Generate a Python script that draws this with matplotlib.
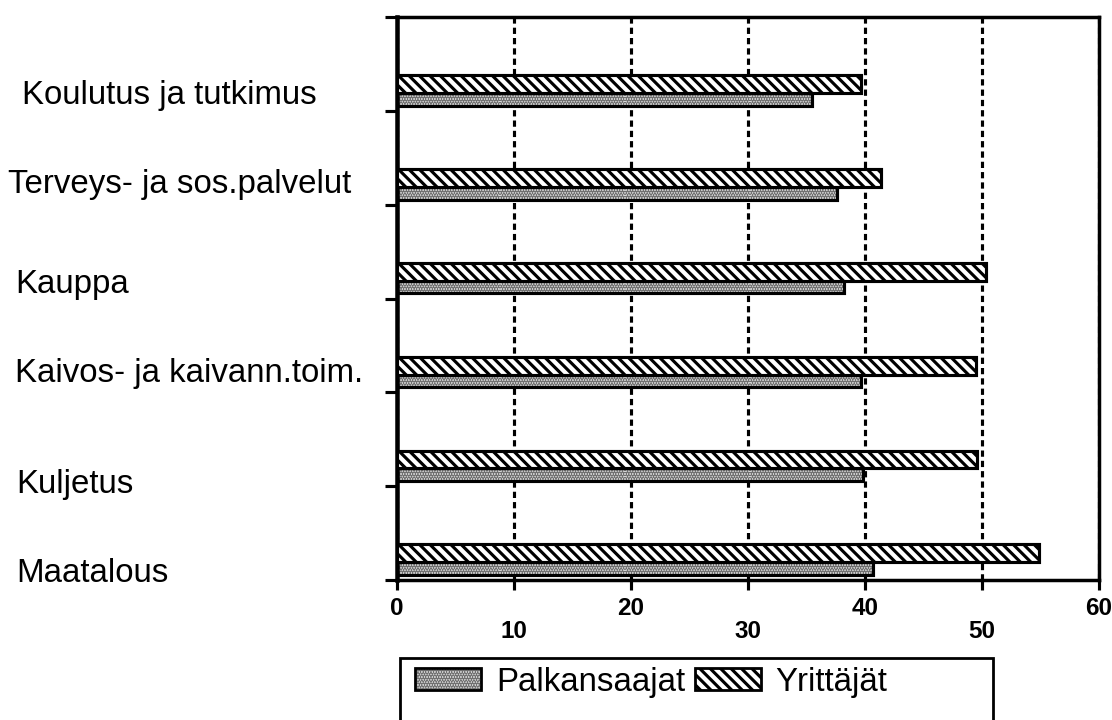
import numpy as np
import matplotlib
matplotlib.use('Agg')
import matplotlib.pyplot as plt
from matplotlib.patches import Patch, Rectangle
from matplotlib import transforms

# Tiedot (luettu kuvasta)
kategoriat = ['Koulutus ja tutkimus', 'Terveys- ja sos.palvelut', 'Kauppa',
              'Kaivos- ja kaivann.toim.', 'Kuljetus', 'Maatalous']
palkansaajat = [35.5, 37.6, 38.2, 39.7, 39.8, 40.7]
yrittajat = [39.7, 41.4, 50.3, 49.5, 49.6, 54.9]
x_ticks = [0, 10, 20, 30, 40, 50, 60]
sarjat = ['Palkansaajat', 'Yrittäjät']

DPI = 125
W, H = 1112, 720
plt.rcParams['font.family'] = ['Liberation Sans', 'DejaVu Sans']
plt.rcParams['hatch.linewidth'] = 1.8

VINO = '\\' * 4
PISTE = '.' * 8

fig = plt.figure(figsize=(W / DPI, H / DPI), dpi=DPI)
ax = fig.add_axes([397 / W, 1 - 580 / H, (1099 - 397) / W, (580 - 17) / H])

n = len(kategoriat)
y = np.arange(n)[::-1]          # ylin kategoria ylimpänä
h_p, h_y, pohja = 0.135, 0.19, 0.055

# Palkansaajat: pisterasteri + musta reunus
ax.barh(y + pohja, palkansaajat, height=h_p, align='edge', color='#dcdcdc',
        edgecolor='#707070', hatch=PISTE, linewidth=0, zorder=2)
ax.barh(y + pohja, palkansaajat, height=h_p, align='edge', fill=False,
        edgecolor='black', linewidth=1.8, zorder=3)
# Yrittäjät: vinoviivat
ax.barh(y + pohja + h_p, yrittajat, height=h_y, align='edge', color='white',
        edgecolor='black', hatch=VINO, linewidth=1.8, zorder=3)

ax.set_xlim(0, 60)
ax.set_ylim(0, n)

# Porrastetut x-akselin luvut
ax.set_xticks(x_ticks)
ax.set_xticklabels([str(v) if i % 2 == 0 else '\n' + str(v)
                    for i, v in enumerate(x_ticks)],
                   fontsize=14, fontweight='bold', linespacing=1.0)
ax.tick_params(axis='x', direction='out', length=6, width=1.8, pad=4)

ax.set_yticks(np.arange(n + 1))
ax.set_yticklabels([])
ax.tick_params(axis='y', direction='out', length=7, width=1.8)

for s in ax.spines.values():
    s.set_linewidth(2.0)
ax.spines['left'].set_linewidth(2.6)

# Katkoviivaiset pystyviivat
ax.set_axisbelow(True)
ax.xaxis.grid(True, color='black', linestyle=(0, (2.0, 1.3)), linewidth=1.8)

# Kategorioiden nimet vasemmalla
lbl_x = [22, 8, 15, 15, 16, 16]
lbl_nudge = [3, -2, 4, -1, 16, 11]
trans = transforms.blended_transform_factory(fig.transFigure, ax.transData)
cap_half = 11
for k, nimi in enumerate(kategoriat):
    ax.annotate(nimi, xy=(lbl_x[k] / W, y[k] + pohja + (h_p + h_y) / 2),
                xycoords=trans, xytext=(0, -(lbl_nudge[k] + cap_half) * 72 / DPI),
                textcoords='offset points', ha='left', va='baseline',
                fontsize=19, annotation_clip=False)

# Selite
fig.patches.append(Rectangle((400 / W, -0.05), (993 - 400) / W, (1 - 658 / H) + 0.05,
                             transform=fig.transFigure, fill=False,
                             edgecolor='black', linewidth=1.6))
h1 = (Patch(facecolor='#dcdcdc', edgecolor='#707070', hatch=PISTE, linewidth=0),
      Patch(fill=False, edgecolor='black', linewidth=1.6))
h2 = Patch(facecolor='white', edgecolor='black', hatch=VINO, linewidth=1.6)
fig.legend([h1, h2], sarjat, loc='center left',
           bbox_to_anchor=(415 / W, 1 - 682 / H), ncol=2, frameon=False,
           fontsize=19, handlelength=2.0, handleheight=0.62,
           handletextpad=0.45, columnspacing=0.3, borderpad=0, borderaxespad=0)

fig.savefig('out.png', dpi=DPI)
